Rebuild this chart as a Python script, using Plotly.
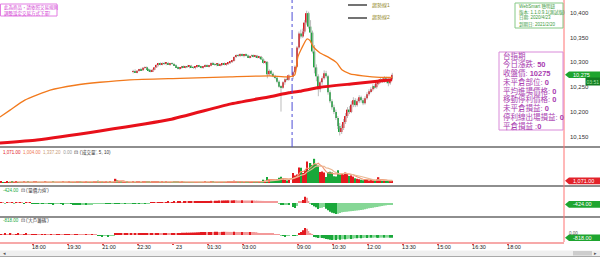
import plotly.graph_objects as go
import pandas as pd

FONT = "Liberation Sans, Noto Sans CJK TC, sans-serif"

# ---------------- data ----------------
pre_start = "16:35"      # first indicator bar visible
night_start = "22:15"    # first candle visible (night session)
day_start = "08:45"      # day session open

night_open = [10281, 10282, 10280, 10283, 10286, 10284, 10289, 10290, 10286, 10283,
              10282, 10285, 10290, 10295, 10297, 10296, 10298, 10297, 10299, 10296,
              10298, 10297, 10294, 10290, 10287, 10289, 10292, 10290, 10292, 10291,
              10293, 10290, 10289, 10291, 10293, 10291, 10290, 10292, 10294, 10292,
              10293, 10299, 10296, 10295, 10297, 10294, 10296, 10298, 10295, 10297,
              10300, 10302, 10303, 10311, 10314, 10313, 10316, 10313, 10315, 10314,
              10310, 10313, 10314, 10312, 10313, 10310, 10311, 10306, 10299, 10301,
              10276, 10283, 10277, 10272, 10269, 10261, 10251, 10249, 10260, 10266,
              10265]
night_high = [10285, 10286, 10284, 10287, 10289, 10290, 10292, 10292, 10288, 10286,
              10287, 10291, 10296, 10299, 10300, 10300, 10301, 10300, 10301, 10299,
              10300, 10299, 10296, 10292, 10290, 10293, 10294, 10293, 10295, 10294,
              10295, 10292, 10292, 10294, 10295, 10293, 10293, 10296, 10296, 10295,
              10300, 10301, 10299, 10298, 10299, 10297, 10299, 10300, 10298, 10301,
              10303, 10305, 10312, 10316, 10317, 10318, 10318, 10316, 10318, 10316,
              10314, 10316, 10316, 10315, 10315, 10313, 10313, 10308, 10303, 10302,
              10286, 10285, 10280, 10275, 10271, 10264, 10254, 10262, 10268, 10270,
              10276]
night_low = [10278, 10279, 10278, 10281, 10283, 10283, 10286, 10285, 10281, 10280,
             10281, 10284, 10289, 10292, 10294, 10294, 10295, 10294, 10295, 10293,
             10295, 10293, 10289, 10286, 10285, 10287, 10289, 10288, 10289, 10288,
             10289, 10287, 10286, 10289, 10290, 10288, 10287, 10290, 10291, 10290,
             10292, 10295, 10293, 10292, 10293, 10292, 10294, 10294, 10293, 10295,
             10297, 10299, 10302, 10309, 10311, 10311, 10312, 10310, 10312, 10309,
             10308, 10310, 10310, 10309, 10308, 10307, 10305, 10297, 10296, 10268,
             10273, 10274, 10270, 10266, 10258, 10249, 10201, 10247, 10255, 10262,
             10263]
night_close = [10282, 10280, 10283, 10286, 10284, 10289, 10290, 10286, 10283, 10282,
               10285, 10290, 10295, 10297, 10296, 10298, 10297, 10299, 10296, 10298,
               10297, 10294, 10290, 10287, 10289, 10292, 10290, 10292, 10291, 10293,
               10290, 10289, 10291, 10293, 10291, 10290, 10292, 10294, 10292, 10293,
               10299, 10296, 10295, 10297, 10294, 10296, 10298, 10295, 10297, 10300,
               10302, 10303, 10311, 10314, 10313, 10316, 10313, 10315, 10314, 10310,
               10313, 10314, 10312, 10313, 10310, 10311, 10306, 10299, 10301, 10276,
               10283, 10277, 10272, 10269, 10261, 10251, 10249, 10260, 10266, 10265,
               10274]

day_open = [10271, 10280, 10291, 10330, 10358, 10352, 10362, 10380, 10399, 10372,
            10360, 10322, 10290, 10272, 10246, 10260, 10268, 10278, 10272, 10240,
            10222, 10210, 10200, 10188, 10172, 10160, 10168, 10180, 10192, 10205,
            10200, 10215, 10224, 10214, 10222, 10230, 10224, 10218, 10228, 10236,
            10242, 10246, 10252, 10250, 10258, 10262, 10266, 10262, 10268, 10264,
            10258, 10266]
day_high = [10283, 10294, 10333, 10362, 10366, 10368, 10385, 10404, 10402, 10385,
            10364, 10335, 10296, 10276, 10263, 10272, 10284, 10283, 10275, 10244,
            10226, 10215, 10205, 10192, 10178, 10175, 10186, 10198, 10210, 10212,
            10222, 10230, 10228, 10227, 10234, 10233, 10228, 10232, 10240, 10246,
            10250, 10256, 10256, 10262, 10266, 10270, 10270, 10272, 10271, 10268,
            10270, 10279]
day_low = [10266, 10277, 10289, 10326, 10348, 10349, 10358, 10376, 10368, 10340,
           10318, 10278, 10262, 10232, 10240, 10255, 10265, 10268, 10235, 10218,
           10205, 10196, 10184, 10166, 10153, 10156, 10164, 10176, 10188, 10196,
           10198, 10210, 10210, 10211, 10218, 10219, 10214, 10215, 10225, 10232,
           10238, 10242, 10246, 10247, 10254, 10258, 10259, 10259, 10258, 10252,
           10255, 10264]
day_close = [10280, 10291, 10330, 10358, 10352, 10362, 10380, 10399, 10372, 10360,
             10322, 10290, 10272, 10246, 10260, 10268, 10278, 10272, 10240, 10222,
             10210, 10200, 10188, 10172, 10160, 10168, 10180, 10192, 10205, 10200,
             10215, 10224, 10214, 10222, 10230, 10224, 10218, 10228, 10236, 10242,
             10246, 10252, 10250, 10258, 10262, 10266, 10262, 10268, 10264, 10258,
             10266, 10275]

# volume (contracts)
pre_volume = [520, 380, 460, 700, 350, 420, 510, 300, 640, 410,
              380, 450, 560, 330, 720, 480, 390, 520, 610, 350,
              440, 380, 500, 620, 360, 410, 470, 530, 390, 450,
              340, 480, 560, 420, 380, 650, 500, 430, 370, 520,
              880, 640, 450, 380, 520, 490, 360, 430, 510, 980,
              1150, 760, 540, 480, 620, 410, 520, 380, 450, 2100,
              1300, 820, 560, 480, 410, 530, 470, 390]
pre_dirs = ("rgrrgrgrrg" "rgrrgrgrrg" "grgrrgrggr" "rgrgrrgrgr"
            "rggrrgrgrr" "grgrrgrgrr" "grgrrgrg")
night_volume = [620, 480, 510, 700, 450, 580, 690, 520, 610, 470,
                540, 720, 880, 650, 430, 520, 460, 510, 480, 390,
                420, 560, 680, 620, 480, 590, 410, 450, 380, 420,
                390, 440, 470, 400, 360, 420, 450, 520, 410, 380,
                900, 610, 480, 440, 390, 420, 460, 410, 380, 520,
                640, 580, 1100, 960, 620, 540, 580, 480, 520, 610,
                480, 520, 450, 430, 470, 510, 860, 1650, 1100, 3000,
                1800, 1200, 1100, 1400, 1900, 2600, 3100, 2200, 1600, 1300,
                1500]
day_volume = [5000, 3800, 4200, 7800, 7600, 5000, 6200, 10800, 6400, 10000,
              9000, 12100, 9500, 8800, 5500, 5800, 5200, 3000, 5500, 5600,
              5300, 3400, 3300, 6400, 4300, 4600, 4200, 5200, 4800, 3500,
              3800, 3200, 2400, 2100, 1900, 1600, 1400, 1800, 1500, 1300,
              1700, 1200, 1100, 1800, 2900, 1450, 1102, 1150, 980, 860,
              959, 1071]

# 量價力道
pre_power = [120, 100, -80, 150, 110, 90, 130, -90, 100, 80,
             120, 90, -100, 110, 80, 100, -120,
             -220, -250, -260, -240, -280, -300, -260, -240, -270, -300,
             -320, -290, -260, -250, -280, -310, -300, -270, -260, -290,
             -330, -360, -380, -400, -420, -410, -390, -400, -380, -360,
             -340, -300, -280, -260, -250, -240, -220, -230, -250, -260,
             -240, -230, -250, -260, -270, -250, -230, -240, -220, -210,
             -200]
night_power = [-230, -250, -220, -240, -200, -180, -210, -190, -160,
               180, 220, 250, 230, 260, 280, 300, 270, 290, 310, 280, 300, 320,
               290, 310, 330, 300, 320, 340, 310, 330, 350, 340, 360, 380, 420,
               480, 520, 560, 580, 600, 640, 620, 660, 700, 720, 680, 740, 760,
               780, 800, 760, 780, 820, 800, 780, 760, 800, 780, 760, 740, 720,
               760, 740, 700, 680, 660, 640, 620, 600, 560, 520, 480, 440, 400,
               360, -300, -450, -600, -500, -350, -400]
day_power = [-1200, -1500, -900, 600, 500, 900, 1900, 1600, 400, -300,
             -600, -1000, -1300, -1800, -1500, -1400, -1200, -1700, -2200, -2600,
             -2900, -3100, -3300, -3200, -3000, -2800, -2700, -2650, -2600, -2500,
             -2450, -2400, -2300, -2250, -2200, -2100, -2000, -1900, -1700, -1600,
             -1500, -1400, -1300, -1200, -1100, -1000, -900, -780, -700, -600,
             -520, -424]

# 大戶籌碼
pre_chips = [300, 280, 320, 300, 290, 310, 300, 280, 300, 320, 300, 290, 300, 310,
             150, 120,
             240, 250, 260, 250, 240, 260, 250, 270, 250, 240, 260, 250, 240,
             250, 260, 250, 240, 250, 260, 270, 250, 240, 250, 260, 250, 240,
             100, 90, 110, 100, 80, 100, 90, 60,
             -280, -300, -320, -300, -290, -310, -300, -280, -260,
             350, 380, 400, 420, 400, 410, 420, 400, 410]
night_chips = [400, 420, 410, 430,
               480, 500, 520, 540, 530, 550, 560, 540, 560, 580, 570, 560, 580,
               600, 590, 580, 600, 620, 600, 610, 620, 640, 650, 660, 680, 700,
               720, 740, 760, 800, 840,
               880, 900, 920, 900, 910, 930, 920, 940, 950, 930, 920, 940, 960,
               950, 940, 930, 920, 940, 930, 910, 900, 920, 910, 900, 890, 900,
               880, 870, 860,
               700, 600, 520, 460, 420, 380, 350, 330, 310, 300, 280, 260,
               -250, -300, -320, -300, -280]
day_chips = [-300, -300, -200, 600, 900, 1400, 2100, 1900, 1200, 600,
             300, -600, -700, -900, -800, -900, -1000, -1200, -1300, -1400,
             -1500, -1400, -1500, -1300, -1400, -1300, -1200, -1300, -1200, -1100,
             -1200, -1100, -1000, -1000, -900, -950, -900, -850, -900, -800,
             -850, -800, -750, -800, -850, -800, -780, -820, -800, -790,
             -810, -818]

# moving-average lines on the price panel
orange_times = ["16:35", "17:01", "17:39", "18:44", "19:48", "20:52", "22:09", "00:18",
                "02:26", "04:09", "04:58", "08:52", "09:00", "09:10", "09:23", "09:31",
                "09:39", "09:57", "10:17", "10:40", "10:53", "11:14", "11:47", "12:31",
                "13:02"]
orange_values = [10190, 10204, 10224, 10244, 10254, 10260, 10265, 10268,
                 10271, 10273, 10271, 10275, 10311, 10329, 10347, 10344,
                 10332, 10319, 10311, 10299, 10285, 10277, 10273, 10270,
                 10270]
red_times = ["16:35", "18:10", "20:52", "23:52", "02:26", "04:09", "04:58", "09:05",
             "09:57", "11:22", "13:02"]
red_values = [10138, 10144, 10162, 10185, 10216, 10231, 10239, 10242,
              10250, 10257, 10265]

price_ticks = [10150, 10200, 10250, 10300, 10350, 10400]
time_ticks = [("night", "18:00", "18:00"), ("night", "19:30", "19:30"),
              ("night", "21:00", "21:00"), ("night", "22:30", "22:30"),
              ("night", "00:00", "23"), ("night", "01:30", "01:30"),
              ("night", "03:00", "03:00"), ("day", "09:00", "09:00"),
              ("day", "10:30", "10:30"), ("day", "12:00", "12:00"),
              ("day", "13:30", "13:30"), ("next", "15:00", "15:00"),
              ("next", "16:30", "16:30"), ("next", "18:00", "18:00")]

info_title = "台指期"
info_rows = [("今日漲跌", "50"), ("收盤價", str(day_close[-1])), ("未平倉部位", "0"),
             ("平均進場價格", "0"), ("移動停利價格", "0"), ("未平倉損益", "0"),
             ("停利線出場損益", "0")]
info_last = ("平倉損益", "0")
app_lines = ["WebSmart 聰明鈕", "版本: 1.1.0.9.1(測試版)", "日期: 2020/4/23", "到期日: 2021/2/20"]
warn_lines = ["此為商品，請依照交易規則", "調整設定交易方式下單!"]
legend_names = ["趨勢線1", "趨勢線2"]
countdown = "03:51"

# ---------------- helpers ----------------
DAY_OFFSET = 846     # compressed gap between night close and day open
NEXT_OFFSET = 1221   # next night session start
W, H = 564, 242      # plot area in pixels


def hm(s):
    h, m = s.split(":")
    return int(h) * 60 + int(m)


def t_of(s, session=None):
    m = hm(s)
    if session is None:
        session = "day" if hm("08:45") <= m <= hm("13:45") else "night"
    if session == "night":
        return (m - hm("15:00")) % 1440
    if session == "day":
        return DAY_OFFSET + m - hm("08:45")
    return NEXT_OFFSET + m - hm("15:00")


def centers(start, n):
    t0 = t_of(start)
    return [t0 + 5 * i + 2.5 for i in range(n)]


def px(x):
    return x / W


def py(y):
    return 1 - y / H


RED, GREEN = "#e3191f", "#19a83a"
LRED, LGREEN = "#f39a9a", "#86d796"

x_pre = centers(pre_start, len(pre_volume))
x_night = centers(night_start, len(night_close))
x_day = centers(day_start, len(day_close))

xc = x_night + x_day
O = night_open + day_open
Hh = night_high + day_high
L = night_low + day_low
C = night_close + day_close
dirs = ["r" if c > o else ("g" if c < o else "n") for o, c in zip(O, C)]
col_map = {"r": RED, "g": GREEN, "n": "#9a9a9a"}

fig = go.Figure()

# ---- price panel ----
wx, wy = [], []
for x, h, l in zip(xc, Hh, L):
    wx += [x, x, None]
    wy += [l, h, None]
fig.add_trace(go.Scatter(x=wx, y=wy, mode="lines", line=dict(color="#ababab", width=0.8),
                         yaxis="y", hoverinfo="skip"))
fig.add_trace(go.Bar(x=xc, y=[max(abs(c - o), 1.2) for o, c in zip(O, C)],
                     base=[min(o, c) for o, c in zip(O, C)], width=4.0,
                     marker=dict(color=[col_map[d] for d in dirs], line=dict(width=0)),
                     yaxis="y"))
fig.add_trace(go.Scatter(x=[t_of(s) for s in orange_times], y=orange_values, mode="lines",
                         line=dict(color="#f27a1d", width=1.3, shape="spline", smoothing=0.5),
                         yaxis="y"))
fig.add_trace(go.Scatter(x=[t_of(s) for s in red_times], y=red_values, mode="lines",
                         line=dict(color="#e8101a", width=3, shape="spline", smoothing=0.4),
                         yaxis="y"))

# ---- volume panel ----
x_all = x_pre + x_night + x_day
vol_all = pre_volume + night_volume + day_volume
vol_dirs = list(pre_dirs) + dirs
fig.add_trace(go.Bar(x=x_all, y=vol_all, width=3.4,
                     marker=dict(color=[col_map[d] for d in vol_dirs], line=dict(width=0)),
                     yaxis="y2"))
vs = pd.Series(vol_all, dtype=float)
ma5 = vs.rolling(5).mean()
ma10 = vs.rolling(10).mean()
fig.add_trace(go.Scatter(x=x_all, y=ma5, mode="lines", line=dict(color="#f4936f", width=1.1),
                         yaxis="y2"))
fig.add_trace(go.Scatter(x=x_all, y=ma10, mode="lines", line=dict(color="#eab894", width=1.1),
                         yaxis="y2"))


def shade(vals):
    out, prev = [], 0
    for v in vals:
        grow = abs(v) >= abs(prev)
        if v >= 0:
            out.append(RED if grow else LRED)
        else:
            out.append(GREEN if grow else LGREEN)
        prev = v
    return out


power_all = pre_power + night_power + day_power
chips_all = pre_chips + night_chips + day_chips
fig.add_trace(go.Bar(x=x_all, y=power_all, width=3.4,
                     marker=dict(color=shade(power_all), line=dict(width=0)), yaxis="y3"))
fig.add_trace(go.Bar(x=x_all, y=chips_all, width=3.4,
                     marker=dict(color=shade(chips_all), line=dict(width=0)), yaxis="y4"))

# ---- layout ----
x_range = [95.2, 1545.0]
fig.update_layout(
    width=600, height=263, margin=dict(l=0, r=36, t=0, b=21),
    paper_bgcolor="white", plot_bgcolor="white", showlegend=False,
    barmode="overlay", font=dict(family=FONT, size=6, color="#333"),
    xaxis=dict(range=x_range, anchor="y4", showgrid=False, zeroline=False,
               tickvals=[t_of(t, s) for s, t, _ in time_ticks],
               ticktext=[lab for _, _, lab in time_ticks],
               showline=True, linecolor="#f7a9a9", linewidth=2,
               ticks="outside", ticklen=1, tickwidth=2, tickcolor="#e23a3a",
               tickfont=dict(size=5.5, color="#222"), ticklabelshift=6,
               ticklabelstandoff=-3),
    yaxis=dict(domain=[py(147), 1], range=[10129.8, 10425.5], side="right",
               tickvals=price_ticks, tickformat=",", showgrid=False, zeroline=False,
               ticks="", tickfont=dict(size=6, color="#333"), ticklabelstandoff=5),
    yaxis2=dict(domain=[py(186), py(147)], range=[-1500, 18000], visible=False),
    yaxis3=dict(domain=[py(217), py(186)], range=[-4200, 5100], visible=False),
    yaxis4=dict(domain=[0, py(217)], range=[-2100, 5400], visible=False),
)

shapes = []
# panel separators
for yy in (147, 186, 217):
    shapes.append(dict(type="line", xref="paper", yref="paper", x0=0, x1=px(600),
                       y0=py(yy), y1=py(yy), line=dict(color="#8e8e8e", width=2)))
# right axis line
shapes.append(dict(type="line", xref="paper", yref="paper", x0=1, x1=1, y0=0, y1=1,
                   line=dict(color="#ff7272", width=1)))
# session divider
shapes.append(dict(type="line", xref="x", yref="paper", x0=t_of(day_start), x1=t_of(day_start),
                   y0=py(147), y1=1, line=dict(color="#4d4dd6", width=1, dash="dashdot")))
# scrollbar
shapes.append(dict(type="rect", xref="paper", yref="paper", x0=0, x1=px(600),
                   y0=py(256), y1=py(250.5), fillcolor="#efefef", line=dict(width=0)))
shapes.append(dict(type="rect", xref="paper", yref="paper", x0=px(573), x1=px(592),
                   y0=py(255.5), y1=py(251), fillcolor="#cdcdcd", line=dict(width=0)))
shapes.append(dict(type="line", xref="paper", yref="paper", x0=0, x1=px(600),
                   y0=py(256.5), y1=py(256.5), line=dict(color="#a9a9a9", width=1)))
# info boxes
shapes.append(dict(type="rect", xref="paper", yref="paper", x0=px(499), x1=px(563),
                   y0=py(130), y1=py(52), fillcolor="white", line=dict(color="#d98ad9", width=1)))
shapes.append(dict(type="rect", xref="paper", yref="paper", x0=px(515), x1=px(563),
                   y0=py(28), y1=py(3), fillcolor="white", line=dict(color="#86c986", width=1)))
shapes.append(dict(type="rect", xref="paper", yref="paper", x0=px(0.5), x1=px(57),
                   y0=py(16), y1=py(4), fillcolor="white", line=dict(color="#e27de2", width=1)))
# legend strokes
for yy in (5, 18):
    shapes.append(dict(type="line", xref="paper", yref="paper", x0=px(348), x1=px(367),
                       y0=py(yy), y1=py(yy), line=dict(color="#444", width=1.5)))


# value tags on the right
def tag(yref, value, fill):
    shapes.append(dict(type="path", xref="paper", yref=yref, xsizemode="pixel",
                       ysizemode="pixel", xanchor=1, yanchor=value,
                       path="M 1,0 L 5,3.3 L 40,3.3 L 40,-3.3 L 5,-3.3 Z",
                       fillcolor=fill, line=dict(width=0), layer="above"))


tag("y", C[-1], "#1ea52f")
tag("y2", vol_all[-1], "#e2222a")
tag("y3", power_all[-1], "#1ea52f")
tag("y4", chips_all[-1], "#1ea52f")
fig.update_layout(shapes=shapes)

ann = []


def text(x, y, s, size, color, anchor="left", **kw):
    ann.append(dict(xref="paper", yref="paper", x=px(x), y=py(y), text=s, showarrow=False,
                    xanchor=anchor, yanchor="middle", font=dict(size=size, color=color, family=FONT),
                    **kw))


def tag_text(yref, value, s, yshift=0):
    ann.append(dict(xref="paper", yref=yref, x=1, y=value, xshift=7, yshift=yshift, text=s,
                    showarrow=False, xanchor="left", yanchor="middle",
                    font=dict(size=5.5, color="white", family=FONT)))


tag_text("y", C[-1], f"{C[-1]:,}")
ann.append(dict(xref="paper", yref="y", x=1, y=C[-1], xshift=21, yshift=-6.5, text=countdown,
                showarrow=False, xanchor="left", yanchor="middle", bgcolor="#127c22",
                borderpad=0.5, font=dict(size=5, color="#a6e6a6", family=FONT)))
tag_text("y2", vol_all[-1], f"{vol_all[-1]:,.2f}")
tag_text("y3", power_all[-1], f"{power_all[-1]:,.2f}")
tag_text("y4", chips_all[-1], f"{chips_all[-1]:,.2f}")
ann.append(dict(xref="paper", yref="y4", x=1, y=0, xshift=3, yshift=2, text="0.00",
                showarrow=False, xanchor="left", yanchor="middle",
                font=dict(size=4.5, color="#555", family=FONT)))

# panel headers
text(1, 152.3,
     f"<span style='color:{RED}'>{vol_all[-1]:,.2f}</span>  "
     f"<span style='color:#f07850'>{ma5.iloc[-1]:,.2f}</span>  "
     f"<span style='color:#c99a76'>{ma10.iloc[-1]:,.2f}</span>  "
     f"<span style='color:#999'>0.00</span>  ⊡ ('成交量', 5, 10)", 4.5, "#333")
text(1, 190.7, f"<span style='color:{GREEN}'>{power_all[-1]:,.2f}</span>  ⊡ ('量價力道')", 4.5, "#333")
text(1, 220.5, f"<span style='color:{GREEN}'>{chips_all[-1]:,.2f}</span>  ⊡ ('大戶籌碼')", 4.5, "#333")

# info box
PURPLE = "#a93caf"
text(501, 55.7, info_title, 7.5, PURPLE)
for i, (k, v) in enumerate(info_rows):
    text(501, 64.4 + 8.75 * i, f"{k}: <b>{v}</b>", 7.5, PURPLE)
text(501, 64.4 + 8.75 * len(info_rows), f"{info_last[0]} :<b>{info_last[1]}</b>", 7.5, PURPLE)

for i, s in enumerate(app_lines):
    text(516.5, 6.2 + 6.1 * i, s, 4.5, "#3a9a3a")
for i, s in enumerate(warn_lines):
    text(1.5, 7.3 + 5.7 * i, s, 4.5, "#d23ad2")
for yy, s in zip((5, 18), legend_names):
    text(370, yy, s, 5, "#948a2c")

text(1, 253.3, "◂", 5, "#555")
text(599, 253.3, "▸", 5, "#555", anchor="right")

fig.update_layout(annotations=ann)
fig.write_html("out.html", config={"displayModeBar": False})
